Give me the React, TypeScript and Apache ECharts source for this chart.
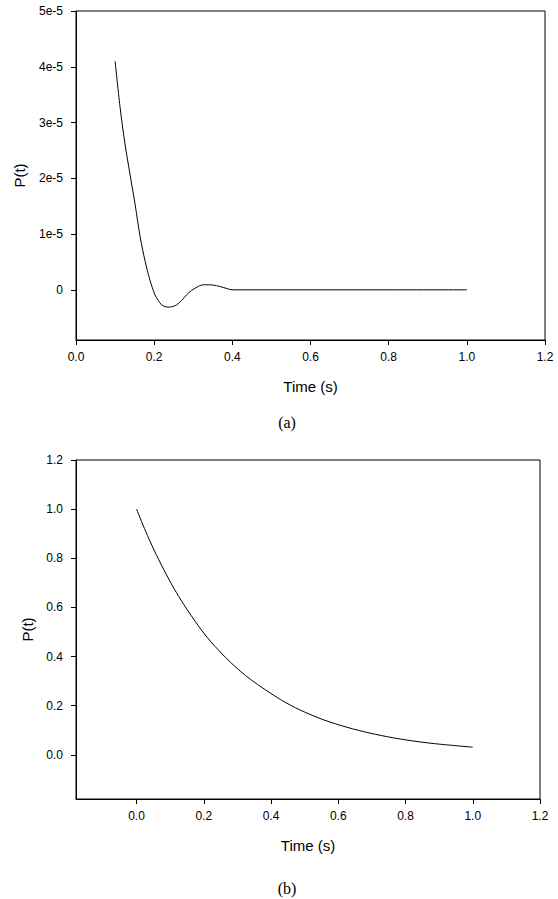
import React, { useEffect, useRef } from "react";
import * as echarts from "echarts";

// Panel (a)
const timeA = [0.1, 0.1125, 0.125, 0.138, 0.151, 0.164, 0.177, 0.189, 0.202, 0.2105, 0.219, 0.2277, 0.236, 0.2473, 0.2575, 0.2704, 0.283, 0.2959, 0.313, 0.3258, 0.338, 0.3514, 0.368, 0.3854, 0.4, 0.6, 0.8, 1.0];
const pA = [4.1e-5, 3.29e-5, 2.63e-5, 2.08e-5, 1.54e-5, 0.955e-5, 0.507e-5, 0.18e-5, -0.09e-5, -0.19e-5, -0.27e-5, -0.3e-5, -0.31e-5, -0.3e-5, -0.27e-5, -0.19e-5, -0.09e-5, -0.01e-5, 0.06e-5, 0.09e-5, 0.09e-5, 0.084e-5, 0.06e-5, 0.024e-5, 0, 0, 0, 0];
const xTicksA = [0, 0.2, 0.4, 0.6, 0.8, 1.0, 1.2];
const xTickLabelsA = ["0.0", "0.2", "0.4", "0.6", "0.8", "1.0", "1.2"];
const yTicksA = [0, 1e-5, 2e-5, 3e-5, 4e-5, 5e-5];
const yTickLabelsA = ["0", "1e-5", "2e-5", "3e-5", "4e-5", "5e-5"];

// Panel (b)
const timeB = [0, 0.027, 0.052, 0.081, 0.111, 0.141, 0.185, 0.22, 0.279, 0.339, 0.428, 0.487, 0.557, 0.626, 0.695, 0.764, 0.834, 0.903, 1.0];
const pB = [1.0, 0.91, 0.834, 0.754, 0.678, 0.611, 0.523, 0.462, 0.377, 0.307, 0.225, 0.182, 0.142, 0.112, 0.088, 0.069, 0.054, 0.043, 0.031];
const xTicksB = [0, 0.2, 0.4, 0.6, 0.8, 1.0, 1.2];
const xTickLabelsB = ["0.0", "0.2", "0.4", "0.6", "0.8", "1.0", "1.2"];
const yTicksB = [0, 0.2, 0.4, 0.6, 0.8, 1.0, 1.2];
const yTickLabelsB = ["0.0", "0.2", "0.4", "0.6", "0.8", "1.0", "1.2"];

const xTitle = "Time (s)";
const yTitle = "P(t)";
const captions = ["(a)", "(b)"];

const lookup = (ticks: number[], labels: string[]) => (v: number) => {
  for (let i = 0; i < ticks.length; i++) {
    if (Math.abs(ticks[i] - v) <= Math.abs(ticks[ticks.length - 1]) * 1e-6) return labels[i];
  }
  return "";
};

const FONT = "Liberation Sans";

function axis(gridIndex: number, min: number, max: number, ticks: number[], labels: string[], name: string, nameGap: number, margin: number) {
  return {
    type: "value",
    gridIndex,
    min,
    max,
    name,
    nameLocation: "middle",
    nameGap,
    nameTextStyle: { color: "#000", fontFamily: FONT, fontSize: 15 },
    splitLine: { show: false },
    axisLine: { show: true, onZero: false, lineStyle: { color: "#000", width: 1 } },
    axisTick: { show: true, inside: false, length: 5, customValues: ticks, lineStyle: { color: "#000", width: 1 } },
    axisLabel: {
      show: true,
      customValues: ticks,
      margin,
      color: "#000",
      fontFamily: FONT,
      fontSize: 12,
      formatter: lookup(ticks, labels),
    },
  };
}

export default function App() {
  const ref = useRef<HTMLDivElement>(null);
  useEffect(() => {
    if (!ref.current) return;
    const chart = echarts.init(ref.current, undefined, { renderer: "svg" });
    chart.setOption({
      animation: false,
      backgroundColor: "#fff",
      grid: [
        { left: 76, top: 11, width: 469, height: 329, show: true, borderColor: "#000", borderWidth: 1, backgroundColor: "transparent" },
        { left: 76, top: 460, width: 464, height: 339, show: true, borderColor: "#000", borderWidth: 1, backgroundColor: "transparent" },
      ],
      xAxis: [
        axis(0, 0, 1.2, xTicksA, xTickLabelsA, xTitle, 39, 11),
        axis(1, -0.18, 1.2, xTicksB, xTickLabelsB, xTitle, 39, 11),
      ],
      yAxis: [
        axis(0, -9e-6, 5e-5, yTicksA, yTickLabelsA, yTitle, 49, 13),
        axis(1, -0.18, 1.2, yTicksB, yTickLabelsB, yTitle, 41, 13),
      ],
      graphic: [
        { type: "text", x: 287, y: 422, style: { text: captions[0], fill: "#000", fontFamily: "Liberation Serif", fontSize: 16, textAlign: "center", textVerticalAlign: "middle" } },
        { type: "text", x: 287, y: 888, style: { text: captions[1], fill: "#000", fontFamily: "Liberation Serif", fontSize: 16, textAlign: "center", textVerticalAlign: "middle" } },
      ],
      series: [
        {
          type: "line",
          xAxisIndex: 0,
          yAxisIndex: 0,
          data: timeA.map((t, i) => [t, pA[i]]),
          showSymbol: false,
          smooth: 0.3,
          lineStyle: { color: "#000", width: 1 },
        },
        {
          type: "line",
          xAxisIndex: 1,
          yAxisIndex: 1,
          data: timeB.map((t, i) => [t, pB[i]]),
          showSymbol: false,
          smooth: 0.3,
          lineStyle: { color: "#000", width: 1 },
        },
      ],
    });
    return () => chart.dispose();
  }, []);
  return <div ref={ref} style={{ position: "absolute", left: 0, top: 0, width: 558, height: 899 }} />;
}
